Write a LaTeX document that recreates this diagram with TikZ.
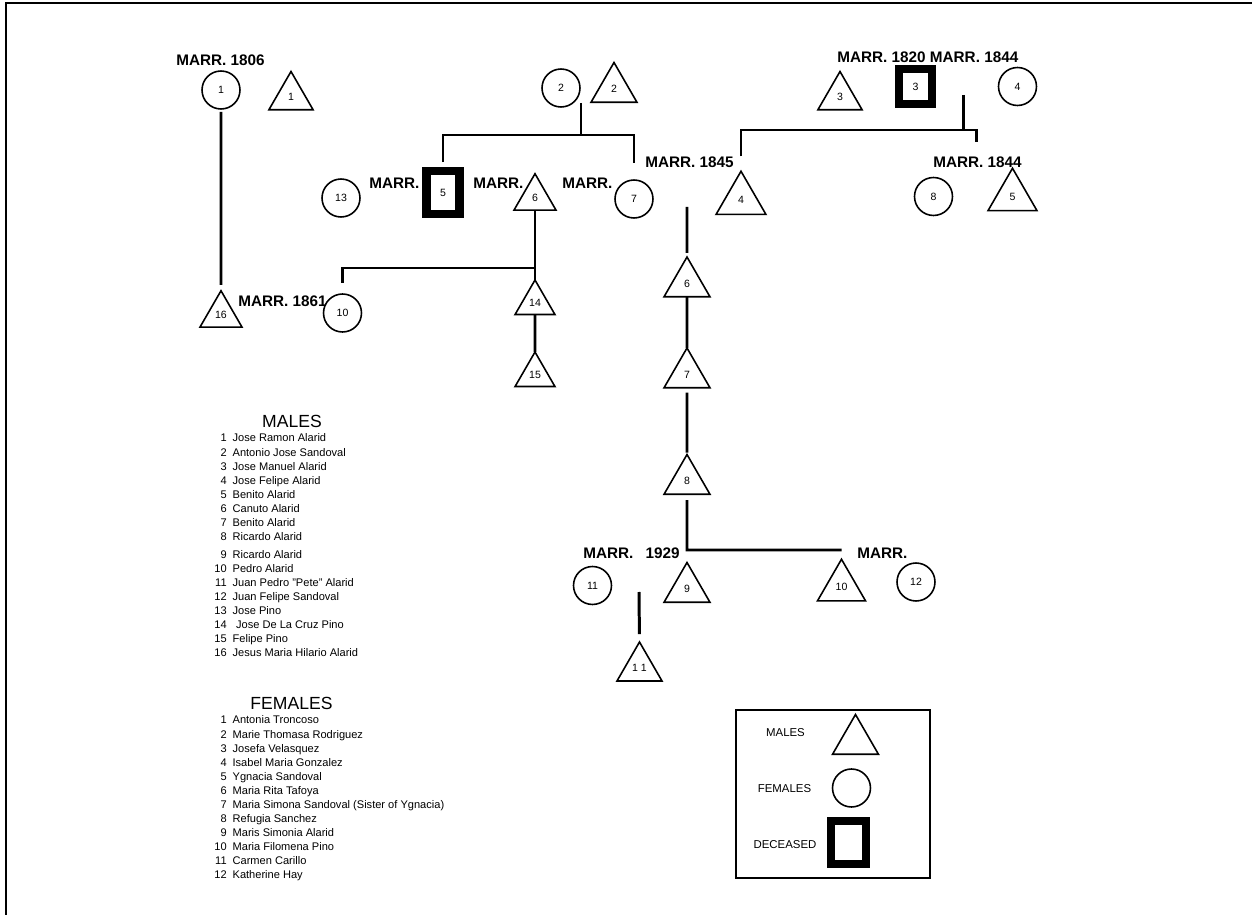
\documentclass[tikz,border=0pt]{standalone}
\usepackage{fontspec}
\setmainfont{Liberation Sans}
\usetikzlibrary{shapes.geometric,calc}

\begin{document}
\begin{tikzpicture}[x=0.02cm,y=-0.02cm,
  male/.style={draw,line width=0.9pt,regular polygon,regular polygon sides=3,inner sep=0pt,outer sep=0pt,minimum size=1.06cm,font=\fontsize{6}{7}\selectfont},
  female/.style={draw,line width=0.9pt,circle,inner sep=0pt,outer sep=0pt,minimum size=0.76cm,font=\fontsize{6}{7}\selectfont},
  dead/.style={draw,line width=4.6pt,rectangle,inner sep=0pt,outer sep=0pt,minimum width=0.66cm,minimum height=0.86cm,font=\fontsize{6}{7}\selectfont},
  marr/.style={anchor=west,inner sep=0pt,font=\bfseries\fontsize{8.7}{10}\selectfont},
  famline/.style={line width=1.7pt},
  keytext/.style={inner sep=0pt,font=\fontsize{6.5}{8}\selectfont},
  listtext/.style={anchor=base west,inner sep=0pt,font=\fontsize{6.3}{8}\selectfont},
  listhead/.style={inner sep=0pt,font=\fontsize{10}{12}\selectfont}]
\useasboundingbox (0,0) rectangle (1252,915);
% page frame
\draw[line width=1.1pt] (6,915) -- (6,3) -- (1252,3);

% first generations
\node[female] (f1) at (221,90) {1};
\node[male,minimum size=1.02cm] (m1) at (291,97) {1};
\node[marr] (marr1806) at (176,60) {MARR. 1806};
\node[female] (f2) at (561,88) {2};
\node[male] (m2) at (614,89) {2};
\node[male,minimum size=1.02cm] (m3) at (840,97) {3};
\node[dead,minimum height=0.7cm] (d3) at (915.5,86.5) {3};
\node[female] (f4) at (1017.5,86.5) {4};
\node[marr] (marr1820) at (837,57) {MARR. 1820 MARR. 1844};

% children of 2 and 3
\node[female] (f13) at (341,198) {13};
\node[marr] (marr5a) at (369,183) {MARR.};
\node[dead] (d5) at (443,192.5) {5};
\node[marr] (marr5b) at (473,183) {MARR.};
\node[male,minimum size=0.97cm] (m6) at (535,198) {6};
\node[marr] (marr7) at (562,183) {MARR.};
\node[female] (f7) at (634,199) {7};
\node[marr] (marr1845) at (645,162) {MARR. 1845};
\node[male,minimum size=1.15cm] (m4) at (741,200) {4};
\node[marr] (marr1844) at (933,162) {MARR. 1844};
\node[female] (f8) at (933.5,196.5) {8};
\node[male,minimum size=1.13cm] (m5) at (1012.5,196.5) {5};

% Pino branch
\node[male,minimum size=0.97cm] (m16) at (221,315) {16};
\node[marr] (marr1861) at (238,301) {MARR. 1861};
\node[female] (f10) at (342.5,313) {10};
\node[male,minimum size=0.92cm] (m14) at (535,303) {14};
\node[male,minimum size=0.92cm] (m15) at (535,375) {15};

% Alarid line
\node[male] (m6b) at (687,283.5) {6};
\node[male] (m7b) at (687,374.5) {7};
\node[male] (m8) at (687,481) {8};
\node[marr] (marr1929) at (583,553) {MARR.\hspace{7pt}1929};
\node[female] (f11) at (592.5,585.5) {11};
\node[male] (m9) at (687,589) {9};
\node[marr] (marr10) at (857,553) {MARR.};
\node[male,minimum size=1.11cm] (m10) at (841.5,587) {10};
\node[female] (f12) at (916,582) {12};
\node[male,minimum size=1.04cm] (m11) at (639.5,668) {1 1};

% descent lines
\draw[famline,shorten <=1.7pt,shorten >=3.4pt] (f1.south) -- (m16.north);
\coordinate (u2) at (581,103);
\coordinate (b2) at (581,135);
\draw[famline] (u2) -- (b2);
\draw[famline,shorten <=5pt,shorten >=9.7pt] (d5.north) |- (b2) -| (f7.north);
\coordinate (u3) at (963,95);
\coordinate (b3) at (963,130);
\coordinate (k5) at (976,142);
\draw[famline] (u3) -- (b3);
\draw[famline,shorten <=8.5pt] (m4.north) |- (b3) -| (k5);
\draw[famline] (m6.south) -- (m14.north);
\draw[famline] (m14.south) -- (m15.north);
\coordinate (j6) at (535,268);
\draw[famline,shorten >=6.5pt] (j6) -| (f10.north);
\coordinate (u4) at (687,207);
\draw[famline,shorten >=2.3pt] (u4) -- (m6b.north);
\draw[famline] (m6b.south) -- (m7b.north);
\draw[famline,shorten <=2.8pt,shorten >=1pt] (m7b.south) -- (m8.north);
\coordinate (j8) at (687,550);
\draw[famline,shorten <=3.4pt] (m8.south) -- (j8) -- (j8 -| m10.north);
\coordinate (u11) at (639,592);
\draw[famline,shorten >=4.5pt] (u11) -- (m11.north);

% name lists
\node[listhead] (malehead) at (292,421) {MALES};
\node[listtext] (malelist) at (214,442) {\begin{tabular}[t]{@{}r@{\hspace{3.4pt}}l@{}}
1 & Jose Ramon Alarid\\
2 & Antonio Jose Sandoval\\
3 & Jose Manuel Alarid\\
4 & Jose Felipe Alarid\\
5 & Benito Alarid\\
6 & Canuto Alarid\\
7 & Benito Alarid\\
8 & Ricardo Alarid\\[2.3pt]
9 & Ricardo Alarid\\
10 & Pedro Alarid\\
11 & Juan Pedro "Pete" Alarid\\
12 & Juan Felipe Sandoval\\
13 & Jose Pino\\
14 & \hspace{2pt}Jose De La Cruz Pino\\
15 & Felipe Pino\\
16 & Jesus Maria Hilario Alarid
\end{tabular}};
\node[listhead] (femalehead) at (291.5,703) {FEMALES};
\node[listtext] (femalelist) at (214,724) {\begin{tabular}[t]{@{}r@{\hspace{3.4pt}}l@{}}
1 & Antonia Troncoso\\
2 & Marie Thomasa Rodriguez\\
3 & Josefa Velasquez\\
4 & Isabel Maria Gonzalez\\
5 & Ygnacia Sandoval\\
6 & Maria Rita Tafoya\\
7 & Maria Simona Sandoval (Sister of Ygnacia)\\
8 & Refugia Sanchez\\
9 & Maris Simonia Alarid\\
10 & Maria Filomena Pino\\
11 & Carmen Carillo\\
12 & Katherine Hay
\end{tabular}};

% key
\node[draw,line width=0.9pt,inner sep=0pt,minimum width=3.88cm,minimum height=3.36cm] (keybox) at (833,794) {};
\node[keytext] (keymale) at (785.5,733) {MALES};
\node[male] (keytri) at (855.5,741) {};
\node[keytext] (keyfemale) at (784.5,789) {FEMALES};
\node[female] (keycirc) at (851.5,788) {};
\node[keytext] (keydead) at (785,845) {DECEASED};
\node[dead,minimum width=0.7cm] (keysq) at (848.5,842.5) {};
\end{tikzpicture}
\end{document}
